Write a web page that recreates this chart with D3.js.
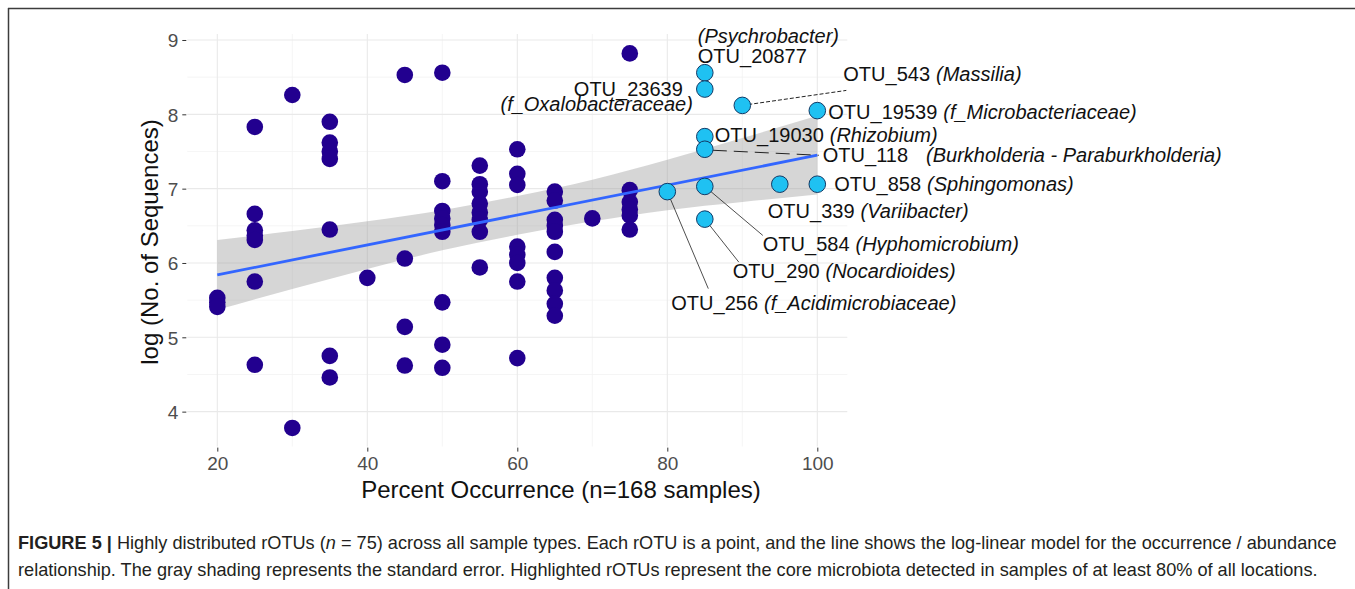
<!DOCTYPE html>
<html><head><meta charset="utf-8">
<script src="https://cdn.jsdelivr.net/npm/d3@7"></script>
<style>
body{margin:0;background:#fff;}
svg{display:block;}
text{font-family:"Liberation Sans",Arial,Helvetica,sans-serif;}
</style>
</head><body>
<svg id="c" width="1355" height="589"></svg>
<script>
// ---------- data ----------
const xTicks = [20, 40, 60, 80, 100];
const yTicks = [4, 5, 6, 7, 8, 9];
const xMinor = [30, 50, 70, 90];
const yMinor = [4.5, 5.5, 6.5, 7.5, 8.5];

// other rOTUs (dark points): percent occurrence and log(no. of sequences)
const otherX = [
  20,20,20,
  25,25,25,25,25,25,25,
  30,30,
  35,35,35,35,35,35,35,
  40,
  45,45,45,45,
  50,50,50,50,50,50,50,50,50,
  55,55,55,55,55,55,55,55,
  60,60,60,60,60,60,60,60,
  65,65,65,65,65,65,65,65,65,65,
  70,
  75,75,75,75,75,75
];
const otherY = [
  5.53,5.47,5.41,
  7.83,6.66,6.44,6.37,6.31,5.75,4.63,
  8.26,3.78,
  7.90,7.62,7.50,7.40,6.45,4.75,4.46,
  5.80,
  8.53,6.06,5.14,4.62,
  8.56,7.10,6.70,6.60,6.51,6.42,5.47,4.90,4.59,
  7.31,7.06,6.96,6.80,6.68,6.58,6.42,5.94,
  7.53,7.20,7.05,6.22,6.11,6.00,5.75,4.72,
  6.96,6.84,6.58,6.50,6.42,6.15,5.80,5.63,5.45,5.29,
  6.60,
  8.82,6.98,6.82,6.72,6.64,6.45
];

// core rOTUs (highlighted)
const coreIds  = ["OTU_256","OTU_20877","OTU_23639","OTU_19030","OTU_118","OTU_584","OTU_290","OTU_543","OTU_339","OTU_19539","OTU_858"];
const coreTaxa = ["f_Acidimicrobiaceae","Psychrobacter","f_Oxalobacteraceae","Rhizobium","Burkholderia - Paraburkholderia","Hyphomicrobium","Nocardioides","Massilia","Variibacter","f_Microbacteriaceae","Sphingomonas"];
const coreX = [80, 85, 85, 85, 85, 85, 85, 90, 95, 100, 100];
const coreY = [6.96, 8.56, 8.34, 7.70, 7.53, 7.03, 6.59, 8.12, 7.06, 8.05, 7.06];

// log-linear fit and its standard-error band
const fitX = [20, 100];
const fitY = [5.84, 7.45];
const bandX    = [20, 30, 40, 50, 60, 70, 80, 90, 100];
const bandHigh = [6.31, 6.43, 6.56, 6.71, 6.90, 7.12, 7.39, 7.68, 7.98];
const bandLow  = [5.37, 5.65, 5.92, 6.17, 6.38, 6.56, 6.71, 6.82, 6.92];

const xTitle = "Percent Occurrence (n=168 samples)";
const yTitle = "log (No. of Sequences)";

// ---------- layout ----------
const svg = d3.select("#c");
const W = 1355, H = 589;
const P = {left: 187.3, right: 847.3, top: 34, bottom: 446.6};

const x = d3.scaleLinear().domain([16, 104]).range([P.left, P.right]);
const y = d3.scaleLinear().domain([3.5296, 9.0807]).range([P.bottom, P.top]);

// figure frame (top and left rules)
svg.append("line").attr("x1",8).attr("x2",W).attr("y1",8.5).attr("y2",8.5).attr("stroke","#3c3c3c").attr("stroke-width",1.5);
svg.append("line").attr("x1",8.5).attr("x2",8.5).attr("y1",8).attr("y2",H).attr("stroke","#3c3c3c").attr("stroke-width",1.5);

const g = svg.append("g");

// grid
g.selectAll(".gxm").data(xMinor).enter().append("line")
  .attr("x1",d=>x(d)).attr("x2",d=>x(d)).attr("y1",P.top).attr("y2",P.bottom)
  .attr("stroke","#f0f0f0").attr("stroke-width",0.7);
g.selectAll(".gym").data(yMinor).enter().append("line")
  .attr("y1",d=>y(d)).attr("y2",d=>y(d)).attr("x1",P.left).attr("x2",P.right)
  .attr("stroke","#f0f0f0").attr("stroke-width",0.7);
g.selectAll(".gx").data(xTicks).enter().append("line")
  .attr("x1",d=>x(d)).attr("x2",d=>x(d)).attr("y1",P.top).attr("y2",P.bottom)
  .attr("stroke","#e9e9e9").attr("stroke-width",1.1);
g.selectAll(".gy").data(yTicks).enter().append("line")
  .attr("y1",d=>y(d)).attr("y2",d=>y(d)).attr("x1",P.left).attr("x2",P.right)
  .attr("stroke","#e9e9e9").attr("stroke-width",1.1);

// axes
const xAxis = d3.axisBottom(x).tickValues(xTicks).tickFormat(d3.format("d")).tickSize(4).tickPadding(5);
const yAxis = d3.axisLeft(y).tickValues(yTicks).tickFormat(d3.format("d")).tickSize(4).tickPadding(4);
const gx = svg.append("g").attr("transform",`translate(0,${P.bottom+1})`).call(xAxis);
const gy = svg.append("g").attr("transform",`translate(${P.left-1},0)`).call(yAxis);
[gx, gy].forEach(a => {
  a.select(".domain").remove();
  a.selectAll(".tick line").attr("stroke","#333").attr("stroke-width",1);
  a.selectAll(".tick text").attr("fill","#4d4d4d").style("font-size","19px")
    .style("font-family",'"Liberation Sans",Arial,sans-serif');
});
gx.selectAll(".tick text").attr("dy","0.71em");
gy.selectAll(".tick text").attr("dy","0.36em");

// band
const pts = bandX.map((d,i)=>({x:d, lo:bandLow[i], hi:bandHigh[i]}));
g.append("path").datum(pts)
  .attr("d", d3.area().x(d=>x(d.x)).y0(d=>y(d.lo)).y1(d=>y(d.hi)).curve(d3.curveMonotoneX))
  .attr("fill","#999999").attr("fill-opacity",0.4);

// dark points
const others = otherX.map((d,i)=>({x:d, y:otherY[i]}));
g.selectAll(".pt").data(others).enter().append("circle")
  .attr("cx",d=>x(d.x)).attr("cy",d=>y(d.y)).attr("r",8.3)
  .attr("fill","#22008f");

// fit line
g.append("path").datum(fitX.map((d,i)=>({x:d,y:fitY[i]})))
  .attr("d", d3.line().x(d=>x(d.x)).y(d=>y(d.y)))
  .attr("stroke","#3366ff").attr("stroke-width",2.8).attr("fill","none");

// label layout (pixel offsets from the point)
const layout = {
  "OTU_256":   {lines:[{dx:4,dy:118,anchor:"start",parts:"id+taxon"}], seg:{dx:41,dy:97}},
  "OTU_20877": {lines:[{dx:-7,dy:-30,anchor:"start",parts:"taxon"},{dx:-7,dy:-10,anchor:"start",parts:"id"}]},
  "OTU_23639": {lines:[{dx:-22,dy:7,anchor:"end",parts:"id"},{dx:-12,dy:22,anchor:"end",parts:"taxon"}]},
  "OTU_19030": {lines:[{dx:10,dy:5,anchor:"start",parts:"id+taxon"}]},
  "OTU_118":   {lines:[{dx:118,dy:13,anchor:"start",parts:"id+taxon",gap:18}], seg:{dx:114,dy:6,sx:8,sy:1,dash:"14,7"}},
  "OTU_584":   {lines:[{dx:58,dy:65,anchor:"start",parts:"id+taxon"}], seg:{dx:58,dy:49}},
  "OTU_290":   {lines:[{dx:28,dy:59,anchor:"start",parts:"id+taxon"}], seg:{dx:34,dy:43}},
  "OTU_543":   {lines:[{dx:101,dy:-24,anchor:"start",parts:"id+taxon"}], seg:{dx:104,dy:-15,dash:"4,2"}},
  "OTU_339":   {lines:[{dx:-12,dy:34,anchor:"start",parts:"id+taxon"}]},
  "OTU_19539": {lines:[{dx:11,dy:8,anchor:"start",parts:"id+taxon"}]},
  "OTU_858":   {lines:[{dx:17,dy:7,anchor:"start",parts:"id+taxon"}]}
};

const core = coreIds.map((id,i)=>({id, taxon:coreTaxa[i], x:coreX[i], y:coreY[i]}));

// segments
core.forEach(d => {
  const L = layout[d.id]; if (!L.seg) return;
  const px = x(d.x), py = y(d.y);
  g.append("line")
    .attr("x1", px + (L.seg.sx||0)).attr("y1", py + (L.seg.sy||0))
    .attr("x2", px + L.seg.dx).attr("y2", py + L.seg.dy)
    .attr("stroke","#222").attr("stroke-width",L.seg.dash ? 1 : 0.8)
    .attr("stroke-dasharray", L.seg.dash || null);
});

// core points
g.selectAll(".core").data(core).enter().append("circle")
  .attr("cx",d=>x(d.x)).attr("cy",d=>y(d.y)).attr("r",8.3)
  .attr("fill","#1fc1f2").attr("stroke","#123a66").attr("stroke-width",1);

// labels
const FS = 20;
core.forEach(d => {
  const L = layout[d.id];
  const px = x(d.x), py = y(d.y);
  L.lines.forEach(l => {
    const t = g.append("text").attr("x", px + l.dx).attr("y", py + l.dy)
      .attr("text-anchor", l.anchor).attr("fill","#111").style("font-size", FS+"px");
    if (l.parts === "id") t.text(d.id);
    else if (l.parts === "taxon") t.append("tspan").style("font-style","italic").text("(" + d.taxon + ")");
    else {
      t.append("tspan").text(d.id);
      t.append("tspan").attr("dx", l.gap ? l.gap : 6).style("font-style","italic").text("(" + d.taxon + ")");
    }
  });
});

// axis titles
svg.append("text").attr("x",561).attr("y",498).attr("text-anchor","middle")
  .style("font-size","24px").attr("fill","#111").text(xTitle);
svg.append("text").attr("transform","translate(158,242) rotate(-90)").attr("text-anchor","middle")
  .style("font-size","24px").attr("fill","#111").text(yTitle);

// caption
const c1 = svg.append("text").attr("x",18).attr("y",549).attr("fill","#231f20").style("font-size","16px");
c1.append("tspan").style("font-weight","bold").text("FIGURE 5 |");
c1.append("tspan").text(" Highly distributed rOTUs (");
c1.append("tspan").style("font-style","italic").text("n");
c1.append("tspan").text(" = 75) across all sample types. Each rOTU is a point, and the line shows the log-linear model for the occurrence / abundance");
const c2 = svg.append("text").attr("x",18).attr("y",576).attr("fill","#231f20").style("font-size","16px")
  .text("relationship. The gray shading represents the standard error. Highlighted rOTUs represent the core microbiota detected in samples of at least 80% of all locations.");
const w1 = c1.node().getComputedTextLength();
const fs = 16 * 1320 / w1;
c1.style("font-size", fs + "px");
c2.style("font-size", fs + "px");
</script>
</body></html>
